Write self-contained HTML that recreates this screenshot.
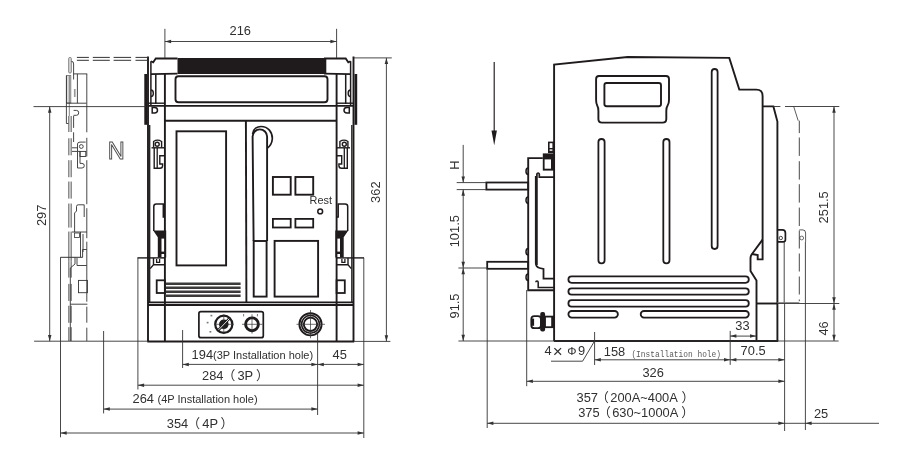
<!DOCTYPE html>
<html lang="en">
<head>
<meta charset="utf-8">
<title>Outline and installation dimensions</title>
<style>
html,body{margin:0;padding:0;background:#fff;}
body{width:920px;height:456px;overflow:hidden;}
svg{display:block;will-change:transform;}
.t{font-family:"Liberation Sans","Noto Sans CJK SC",sans-serif;}
</style>
</head>
<body>
<svg width="920" height="456" viewBox="0 0 920 456">
<rect x="0" y="0" width="920" height="456" fill="#fff"/>
<g id="front">
<line x1="148.0" y1="56.6" x2="148.0" y2="341.4" stroke="#1f1b1c" stroke-width="1.9" />
<rect x="144.3" y="74" width="2.7" height="50.8" rx="0" fill="#1f1b1c" stroke="none" stroke-width="0"/>
<line x1="150.9" y1="61.2" x2="150.9" y2="105.9" stroke="#1f1b1c" stroke-width="1.5" />
<path d="M150.9,61.2 L153.2,62.3 L155.8,58.5 L177.5,58.5" fill="none" stroke="#1f1b1c" stroke-width="1.8" />
<line x1="150.9" y1="74.1" x2="177.5" y2="73.6" stroke="#1f1b1c" stroke-width="1.8" />
<line x1="155.8" y1="74" x2="155.8" y2="104" stroke="#1f1b1c" stroke-width="1.5" />
<line x1="164.9" y1="74" x2="164.9" y2="341.4" stroke="#1f1b1c" stroke-width="1.9" />
<path d="M151.0,90 A2.3,3.2 0 0 1 151.0,96.5" fill="none" stroke="#1f1b1c" stroke-width="1.4" />
<path d="M152.2,107.6 L154.5,107.6 A3,2.7 0 0 1 154.5,113 L152.2,113 Z" fill="none" stroke="#1f1b1c" stroke-width="1.5" />
<line x1="148.0" y1="103.2" x2="165.0" y2="103.2" stroke="#1f1b1c" stroke-width="1.4" />
<circle cx="157.2" cy="144.2" r="2.0" fill="none" stroke="#1f1b1c" stroke-width="1.4"/>
<path d="M153.6,147.6 L153.6,141.5 Q157.5,138.8 161.6,141.5 L161.6,147.6" fill="none" stroke="#1f1b1c" stroke-width="1.4" />
<line x1="151.5" y1="147.8" x2="164.9" y2="147.8" stroke="#1f1b1c" stroke-width="1.4" />
<path d="M154.2,148 L154.2,168.3 L160.0,168.3 Q162.6,168.3 162.6,165.5 L162.6,164 L159.8,164 L159.8,155.8 L164.5,155.8" fill="none" stroke="#1f1b1c" stroke-width="1.4" />
<line x1="157.2" y1="148" x2="157.2" y2="168.3" stroke="#1f1b1c" stroke-width="1.3" />
<path d="M153.8,231 L153.8,206.5 Q153.8,204 156.3,204 L163.3,204 L163.3,217 L164.9,217" fill="none" stroke="#1f1b1c" stroke-width="1.5" />
<path d="M153.2,230.5 L166.2,230.5 L166.2,257.6 L157.8,257.6 L157.8,237.2 Z" fill="#1f1b1c" stroke="#1f1b1c" stroke-width="0" />
<rect x="161.5" y="238.6" width="2.6" height="13.0" rx="0" fill="#fff" stroke="none" stroke-width="0"/>
<rect x="161.5" y="254" width="2.6" height="3" rx="0" fill="#fff" stroke="none" stroke-width="0"/>
<line x1="149.7" y1="125" x2="149.7" y2="302" stroke="#1f1b1c" stroke-width="1.3" />
<path d="M150.2,268.6 L153.5,264.8 L153.5,257.9 M153.5,264.8 L164.9,264.8" fill="none" stroke="#1f1b1c" stroke-width="1.4" />
<path d="M156.6,259 L156.6,262.3 L159.6,262.3 L159.6,259" fill="none" stroke="#1f1b1c" stroke-width="1.3" />
<line x1="137.5" y1="257.9" x2="165.0" y2="257.9" stroke="#1f1b1c" stroke-width="1.4" />
<rect x="156.7" y="280.3" width="8.2" height="12.7" rx="0" fill="none" stroke="#1f1b1c" stroke-width="1.8"/>
<line x1="353.5" y1="56.6" x2="353.5" y2="341.4" stroke="#1f1b1c" stroke-width="1.9" />
<rect x="354.5" y="74" width="2.7" height="50.8" rx="0" fill="#1f1b1c" stroke="none" stroke-width="0"/>
<line x1="350.6" y1="61.2" x2="350.6" y2="105.9" stroke="#1f1b1c" stroke-width="1.5" />
<path d="M350.6,61.2 L348.3,62.3 L345.7,58.5 L324.0,58.5" fill="none" stroke="#1f1b1c" stroke-width="1.8" />
<line x1="350.6" y1="74.1" x2="324.0" y2="73.6" stroke="#1f1b1c" stroke-width="1.8" />
<line x1="345.7" y1="74" x2="345.7" y2="104" stroke="#1f1b1c" stroke-width="1.5" />
<line x1="336.6" y1="74" x2="336.6" y2="341.4" stroke="#1f1b1c" stroke-width="1.9" />
<path d="M350.5,90 A2.3,3.2 0 0 0 350.5,96.5" fill="none" stroke="#1f1b1c" stroke-width="1.4" />
<path d="M349.3,107.6 L347.0,107.6 A3,2.7 0 0 0 347.0,113 L349.3,113 Z" fill="none" stroke="#1f1b1c" stroke-width="1.5" />
<line x1="353.5" y1="103.2" x2="336.5" y2="103.2" stroke="#1f1b1c" stroke-width="1.4" />
<circle cx="344.3" cy="144.2" r="2.0" fill="none" stroke="#1f1b1c" stroke-width="1.4"/>
<path d="M347.9,147.6 L347.9,141.5 Q344.0,138.8 339.9,141.5 L339.9,147.6" fill="none" stroke="#1f1b1c" stroke-width="1.4" />
<line x1="350.0" y1="147.8" x2="336.6" y2="147.8" stroke="#1f1b1c" stroke-width="1.4" />
<path d="M347.3,148 L347.3,168.3 L341.5,168.3 Q338.9,168.3 338.9,165.5 L338.9,164 L341.7,164 L341.7,155.8 L337.0,155.8" fill="none" stroke="#1f1b1c" stroke-width="1.4" />
<line x1="344.3" y1="148" x2="344.3" y2="168.3" stroke="#1f1b1c" stroke-width="1.3" />
<path d="M347.7,231 L347.7,206.5 Q347.7,204 345.2,204 L338.2,204 L338.2,217 L336.6,217" fill="none" stroke="#1f1b1c" stroke-width="1.5" />
<path d="M348.3,230.5 L335.3,230.5 L335.3,257.6 L343.7,257.6 L343.7,237.2 Z" fill="#1f1b1c" stroke="#1f1b1c" stroke-width="0" />
<rect x="337.4" y="238.6" width="2.6" height="13.0" rx="0" fill="#fff" stroke="none" stroke-width="0"/>
<rect x="337.4" y="254" width="2.6" height="3" rx="0" fill="#fff" stroke="none" stroke-width="0"/>
<line x1="351.8" y1="125" x2="351.8" y2="302" stroke="#1f1b1c" stroke-width="1.3" />
<path d="M351.3,268.6 L348.0,264.8 L348.0,257.9 M348.0,264.8 L336.6,264.8" fill="none" stroke="#1f1b1c" stroke-width="1.4" />
<path d="M344.9,259 L344.9,262.3 L341.9,262.3 L341.9,259" fill="none" stroke="#1f1b1c" stroke-width="1.3" />
<line x1="364.0" y1="257.9" x2="336.5" y2="257.9" stroke="#1f1b1c" stroke-width="1.4" />
<rect x="336.6" y="280.3" width="8.2" height="12.7" rx="0" fill="none" stroke="#1f1b1c" stroke-width="1.8"/>
</g>
<rect x="177.5" y="58" width="148.8" height="16" rx="0" fill="#1f1b1c" stroke="none" stroke-width="0"/>
<rect x="175.5" y="76.3" width="152.0" height="26.0" rx="3" fill="none" stroke="#1f1b1c" stroke-width="1.9"/>
<line x1="148" y1="105.9" x2="353.5" y2="105.9" stroke="#1f1b1c" stroke-width="1.9" />
<line x1="164.9" y1="120.8" x2="336.6" y2="120.8" stroke="#1f1b1c" stroke-width="1.9" />
<line x1="245.9" y1="120.8" x2="246.4" y2="302.4" stroke="#1f1b1c" stroke-width="1.9" />
<rect x="176.5" y="131.3" width="49.6" height="134.1" rx="0" fill="none" stroke="#1f1b1c" stroke-width="1.9"/>
<path d="M253.6,241 L252.6,136.6 A7.25,7.25 0 0 1 267.1,136.6 L267.1,241" fill="none" stroke="#1f1b1c" stroke-width="1.9" />
<path d="M252.6,134 C253,128.5 257.5,126.5 261,126.5 C268,126.5 272.6,132 272.3,139 C272,143 270,146.2 267.1,148.4" fill="none" stroke="#1f1b1c" stroke-width="1.7" />
<rect x="253.7" y="241" width="12.9" height="55.6" rx="0" fill="none" stroke="#1f1b1c" stroke-width="1.9"/>
<rect x="272.9" y="177" width="17.8" height="17.7" rx="0" fill="none" stroke="#1f1b1c" stroke-width="1.9"/>
<rect x="295.4" y="177" width="17.8" height="17.7" rx="0" fill="none" stroke="#1f1b1c" stroke-width="1.9"/>
<rect x="272.9" y="218.9" width="17.8" height="8.6" rx="0" fill="none" stroke="#1f1b1c" stroke-width="1.8"/>
<rect x="295.4" y="218.9" width="17.8" height="8.6" rx="0" fill="none" stroke="#1f1b1c" stroke-width="1.8"/>
<rect x="274.6" y="240.9" width="43.5" height="55.7" rx="0" fill="none" stroke="#1f1b1c" stroke-width="1.9"/>
<text class="t" x="309.6" y="203.6" font-size="10.9" text-anchor="start" fill="#303030" >Rest</text>
<circle cx="320.2" cy="211.4" r="2.4" fill="none" stroke="#1f1b1c" stroke-width="1.5"/>
<line x1="166" y1="283.8" x2="240.6" y2="283.8" stroke="#3d3a3a" stroke-width="2.5" />
<line x1="166" y1="287.8" x2="240.6" y2="287.8" stroke="#3d3a3a" stroke-width="2.5" />
<line x1="166" y1="291.7" x2="240.6" y2="291.7" stroke="#3d3a3a" stroke-width="2.5" />
<line x1="166" y1="295.7" x2="240.6" y2="295.7" stroke="#3d3a3a" stroke-width="2.5" />
<line x1="148" y1="302.4" x2="353.5" y2="302.4" stroke="#1f1b1c" stroke-width="1.9" />
<line x1="148" y1="305.1" x2="353.5" y2="305.1" stroke="#1f1b1c" stroke-width="2.0" />
<line x1="147.3" y1="341.4" x2="354.2" y2="341.4" stroke="#1f1b1c" stroke-width="2.0" />
<rect x="198.9" y="311.6" width="64.4" height="26.1" rx="2" fill="none" stroke="#1f1b1c" stroke-width="1.7"/>
<circle cx="223.8" cy="324.3" r="8.6" fill="none" stroke="#1f1b1c" stroke-width="2.2"/>
<circle cx="223.8" cy="324.3" r="4.8" fill="#1f1b1c" stroke="none" stroke-width="0"/>
<line x1="214" y1="324.3" x2="233.6" y2="324.3" stroke="#333" stroke-width="0.7" />
<line x1="223.8" y1="314.5" x2="223.8" y2="334.1" stroke="#333" stroke-width="0.7" />
<line x1="217.6" y1="330.8" x2="230.2" y2="317.6" stroke="#1f1b1c" stroke-width="2.6" />
<line x1="218.6" y1="329.8" x2="229.2" y2="318.8" stroke="#fff" stroke-width="0.9" />
<circle cx="252" cy="324.3" r="6.4" fill="none" stroke="#1f1b1c" stroke-width="2.9"/>
<line x1="242" y1="324.3" x2="262.4" y2="324.3" stroke="#333" stroke-width="0.7" />
<line x1="252" y1="314.3" x2="252" y2="333.6" stroke="#333" stroke-width="0.7" />
<rect x="210.5" y="314.8" width="1.8" height="1.6" rx="0" fill="#777" stroke="none" stroke-width="0"/>
<rect x="206.7" y="321.8" width="1.8" height="1.6" rx="0" fill="#777" stroke="none" stroke-width="0"/>
<rect x="209.5" y="331.0" width="1.8" height="1.6" rx="0" fill="#777" stroke="none" stroke-width="0"/>
<line x1="243.6" y1="314.0" x2="243.6" y2="316.4" stroke="#555" stroke-width="0.8" />
<line x1="257.4" y1="314.0" x2="257.4" y2="316.4" stroke="#555" stroke-width="0.8" />
<circle cx="310.5" cy="324.3" r="11.1" fill="none" stroke="#1f1b1c" stroke-width="1.9"/>
<circle cx="310.5" cy="324.3" r="8.9" fill="none" stroke="#1f1b1c" stroke-width="1.6"/>
<circle cx="310.5" cy="324.3" r="6.7" fill="none" stroke="#1f1b1c" stroke-width="1.9"/>
<line x1="296.5" y1="324.3" x2="325" y2="324.3" stroke="#333" stroke-width="0.7" />
<line x1="310.5" y1="310" x2="310.5" y2="338.2" stroke="#333" stroke-width="0.7" />
<g id="npole">
<line x1="76.9" y1="57.4" x2="147.6" y2="57.4" stroke="#333" stroke-width="1.0" stroke-dasharray="12 3.9 17 3.8 17.5 4.4 12.1 0"/>
<line x1="76.9" y1="60.3" x2="147.6" y2="60.3" stroke="#333" stroke-width="1.0" stroke-dasharray="12 3.9 17 3.8 17.5 4.4 12.1 0"/>
<rect x="68.7" y="57.5" width="2.6" height="15.5" rx="1" fill="#ddd" stroke="#666" stroke-width="0.8"/>
<path d="M71.5,61.5 Q73.6,61 73.6,64 L73.6,79.5" fill="none" stroke="#333" stroke-width="0.9" />
<line x1="73.6" y1="73.9" x2="87.2" y2="73.9" stroke="#333" stroke-width="0.9" />
<line x1="77.4" y1="73.9" x2="77.4" y2="103.2" stroke="#333" stroke-width="0.9" />
<rect x="66.5" y="75.6" width="4.3" height="27.4" rx="0" fill="#ddd" stroke="#666" stroke-width="0.8"/>
<line x1="69.3" y1="76" x2="69.3" y2="122" stroke="#666" stroke-width="0.8" />
<line x1="66.4" y1="75.6" x2="66.4" y2="123.5" stroke="#333" stroke-width="0.9" />
<line x1="66.4" y1="123.5" x2="69.2" y2="123.5" stroke="#333" stroke-width="0.9" />
<line x1="66.4" y1="103.2" x2="86.5" y2="103.2" stroke="#333" stroke-width="0.9" />
<rect x="73.9" y="89" width="1.7" height="8" rx="0" fill="#999" stroke="none" stroke-width="0"/>
<path d="M73.6,110.4 L76.5,110.4 A2.2,2.45 0 0 1 76.5,115.3 L73.6,115.3" fill="none" stroke="#333" stroke-width="0.9" />
<line x1="73.6" y1="115.8" x2="73.6" y2="127.9" stroke="#333" stroke-width="0.9" />
<line x1="73.6" y1="132.3" x2="73.6" y2="142" stroke="#333" stroke-width="0.9" />
<line x1="86.8" y1="73.9" x2="86.8" y2="341" stroke="#333" stroke-width="0.9" stroke-dasharray="58.4 5.5 18.6 3.8 44 4 30 3.5 60 5 16 5 100"/>
<line x1="70" y1="116" x2="70" y2="341" stroke="#d4d4d4" stroke-width="2.6" stroke-dasharray="16 6.3 17 4.9 17 4.4 17 5 24 4 30 0"/>
<line x1="68.7" y1="116" x2="68.7" y2="341" stroke="#666" stroke-width="0.9" stroke-dasharray="16 6.3 17 4.9 17 4.4 17 5 24 4 30 0"/>
<line x1="71.3" y1="116" x2="71.3" y2="341" stroke="#666" stroke-width="0.9" stroke-dasharray="16 6.3 17 4.9 17 4.4 17 5 24 4 30 0"/>
<circle cx="81.3" cy="146.5" r="1.9" fill="none" stroke="#333" stroke-width="0.9"/>
<path d="M77.5,151.3 L77.5,144 Q77.5,142.1 80,142.1 L85.6,142.1" fill="none" stroke="#333" stroke-width="0.9" />
<line x1="72" y1="147.8" x2="77.5" y2="147.8" stroke="#333" stroke-width="0.9" />
<line x1="72" y1="151.4" x2="77.5" y2="151.4" stroke="#333" stroke-width="0.9" />
<path d="M77.5,151.4 L77.5,168 L82,168 A2.3,2.3 0 0 0 82,163.4 L80,163.4 L80,151.4 Z" fill="none" stroke="#333" stroke-width="0.9" />
<rect x="80" y="151.4" width="5.8" height="5.1" rx="0" fill="none" stroke="#333" stroke-width="0.9"/>
<path d="M74.6,232 L74.6,213 L76.5,211 L76.5,206.5 Q76.5,204.8 78.2,204.8 L84.2,204.8 L84.2,217" fill="none" stroke="#333" stroke-width="0.9" />
<line x1="72" y1="232" x2="86.8" y2="232" stroke="#333" stroke-width="0.9" />
<rect x="74.5" y="233" width="5.0" height="4.5" rx="0" fill="none" stroke="#333" stroke-width="0.8"/>
<line x1="80.5" y1="232" x2="80.5" y2="257" stroke="#333" stroke-width="0.9" />
<line x1="83" y1="234" x2="83" y2="252" stroke="#333" stroke-width="0.9" />
<line x1="60.4" y1="257.3" x2="82.6" y2="257.3" stroke="#333" stroke-width="1.0" />
<path d="M82.6,257.3 L82.6,249.5 L86.8,249.5" fill="none" stroke="#333" stroke-width="0.9" />
<path d="M75,257.3 L75,264 L70.3,268 L70.3,341" fill="none" stroke="#333" stroke-width="0.9" />
<path d="M77,258 L77,265.5 L86.8,265.5" fill="none" stroke="#333" stroke-width="0.9" />
<rect x="78.5" y="280.4" width="8.9" height="12.3" rx="0" fill="none" stroke="#333" stroke-width="0.9"/>
<line x1="70.3" y1="304.2" x2="87.4" y2="304.2" stroke="#333" stroke-width="0.9" />
</g>
<text x="107.7" y="159.3" font-size="23.6" font-family="Liberation Sans,Arial,sans-serif" fill="#fff" stroke="#4d4d4d" stroke-width="0.95">N</text>
<line x1="164.9" y1="28.8" x2="164.9" y2="58" stroke="#333" stroke-width="0.9" />
<line x1="336.6" y1="28.8" x2="336.6" y2="58" stroke="#333" stroke-width="0.9" />
<line x1="164.9" y1="41.5" x2="336.6" y2="41.5" stroke="#333" stroke-width="0.9" />
<polygon points="164.9,41.5 171.1,39.75 171.1,43.25" fill="#333"/>
<polygon points="336.6,41.5 330.4,43.25 330.4,39.75" fill="#333"/>
<text class="t" x="240.3" y="35.0" font-size="12.85" text-anchor="middle" fill="#303030" >216</text>
<line x1="354" y1="57.9" x2="391.8" y2="57.9" stroke="#333" stroke-width="0.9" />
<line x1="354" y1="341.4" x2="390.4" y2="341.4" stroke="#333" stroke-width="0.9" />
<line x1="386.4" y1="57.9" x2="386.4" y2="341.4" stroke="#333" stroke-width="0.9" />
<polygon points="386.4,57.9 388.15,64.1 384.65,64.1" fill="#333"/>
<polygon points="386.4,341.4 384.65,335.2 388.15,335.2" fill="#333"/>
<text class="t" transform="translate(379.9,192.2) rotate(-90)" font-size="12.9" text-anchor="middle" fill="#303030">362</text>
<line x1="33.5" y1="106.6" x2="145.6" y2="106.6" stroke="#333" stroke-width="0.9" />
<line x1="34.1" y1="341.2" x2="148" y2="341.2" stroke="#333" stroke-width="0.9" />
<line x1="49.7" y1="106.6" x2="49.7" y2="341.2" stroke="#333" stroke-width="0.9" />
<polygon points="49.7,106.6 51.45,112.8 47.95,112.8" fill="#333"/>
<polygon points="49.7,341.2 47.95,335.0 51.45,335.0" fill="#333"/>
<text class="t" transform="translate(45.6,215.3) rotate(-90)" font-size="12.9" text-anchor="middle" fill="#303030">297</text>
<line x1="60.5" y1="257.3" x2="60.5" y2="437.3" stroke="#333" stroke-width="0.9" />
<line x1="103.6" y1="331" x2="103.6" y2="413.4" stroke="#333" stroke-width="0.9" />
<line x1="137.9" y1="257.8" x2="137.9" y2="389.5" stroke="#333" stroke-width="0.9" />
<line x1="182.6" y1="330" x2="182.6" y2="368" stroke="#333" stroke-width="0.9" />
<line x1="317.6" y1="333" x2="317.6" y2="415" stroke="#333" stroke-width="0.9" />
<line x1="363.8" y1="257.8" x2="363.8" y2="438" stroke="#333" stroke-width="0.9" />
<line x1="182.6" y1="364.4" x2="317.6" y2="364.4" stroke="#333" stroke-width="0.9" />
<polygon points="182.6,364.4 188.8,362.65 188.8,366.15" fill="#333"/>
<polygon points="317.6,364.4 311.4,366.15 311.4,362.65" fill="#333"/>
<line x1="317.6" y1="364.4" x2="363.8" y2="364.4" stroke="#333" stroke-width="0.9" />
<polygon points="317.6,364.4 323.8,362.65 323.8,366.15" fill="#333"/>
<polygon points="363.8,364.4 357.6,366.15 357.6,362.65" fill="#333"/>
<line x1="137.9" y1="385.2" x2="363.8" y2="385.2" stroke="#333" stroke-width="0.9" />
<polygon points="137.9,385.2 144.1,383.45 144.1,386.95" fill="#333"/>
<polygon points="363.8,385.2 357.6,386.95 357.6,383.45" fill="#333"/>
<line x1="103.6" y1="409.1" x2="317.6" y2="409.1" stroke="#333" stroke-width="0.9" />
<polygon points="103.6,409.1 109.8,407.35 109.8,410.85" fill="#333"/>
<polygon points="317.6,409.1 311.4,410.85 311.4,407.35" fill="#333"/>
<line x1="60.5" y1="433" x2="363.8" y2="433" stroke="#333" stroke-width="0.9" />
<polygon points="60.5,433 66.7,431.25 66.7,434.75" fill="#333"/>
<polygon points="363.8,433 357.6,434.75 357.6,431.25" fill="#333"/>
<text class="t" x="191.6" y="359.3" font-size="12.85" text-anchor="start" fill="#303030" >194<tspan font-size="11.0">(3P Installation hole)</tspan></text>
<text class="t" x="339.7" y="359.3" font-size="12.85" text-anchor="middle" fill="#303030" >45</text>
<text class="t" x="202.0" y="379.9" font-size="12.85" text-anchor="start" fill="#303030" >284<tspan dx="-1.0">（</tspan><tspan dx="2.1">3P</tspan><tspan dx="2.9">）</tspan></text>
<text class="t" x="132.5" y="403.1" font-size="12.85" text-anchor="start" fill="#303030" >264 <tspan font-size="11.0">(4P Installation hole)</tspan></text>
<text class="t" x="166.8" y="427.8" font-size="12.85" text-anchor="start" fill="#303030" >354<tspan dx="-0.9">（</tspan><tspan dx="2.1">4P</tspan><tspan dx="2.4">）</tspan></text>
<g id="side">
<path d="M554.1,341 L554.1,64.6 L627.7,57 L729.3,57.9 L739.3,89.6 L756.3,89.6 Q762.6,89.6 762.6,96 L762.6,259.4 L757.7,259.4 L757.7,255 L752,254" fill="none" stroke="#1f1b1c" stroke-width="1.9" />
<path d="M762.6,239.6 L752,254 Q750.5,256 750.5,258 L750.5,271 L756.5,280.5 L756.5,341" fill="none" stroke="#1f1b1c" stroke-width="1.9" />
<line x1="553.9" y1="341" x2="778.2" y2="341" stroke="#1f1b1c" stroke-width="2.0" />
<path d="M762.6,106.4 L773.4,106.4 L777.4,121.6 L777.4,341" fill="none" stroke="#1f1b1c" stroke-width="1.9" />
<line x1="756.4" y1="303.5" x2="777.4" y2="303.5" stroke="#1f1b1c" stroke-width="1.9" />
<path d="M599,76 L666,76 Q669,76 669,79 L669,100 Q669,103.5 667.6,105.5 Q666.3,107.5 666.3,111 L666.3,119 Q666.3,122.6 662.6,122.6 L602,122.6 Q598.4,122.6 598.4,119 L598.4,111 Q598.4,107.5 597.2,105.5 Q596.1,103.5 596.1,100 L596.1,79 Q596.1,76 599,76 Z" fill="none" stroke="#1f1b1c" stroke-width="1.9" />
<rect x="604.4" y="83" width="56.6" height="23.3" rx="2.2" fill="none" stroke="#1f1b1c" stroke-width="1.9"/>
<rect x="598.4" y="139" width="6.2" height="124.3" rx="3.1" fill="none" stroke="#1f1b1c" stroke-width="1.8"/>
<rect x="663.3" y="139" width="6.2" height="124.3" rx="3.1" fill="none" stroke="#1f1b1c" stroke-width="1.8"/>
<rect x="711.7" y="69" width="5.9" height="180" rx="2.95" fill="none" stroke="#1f1b1c" stroke-width="1.8"/>
<rect x="568.4" y="276.40000000000003" width="180.4" height="6.4" rx="3.2" fill="none" stroke="#1f1b1c" stroke-width="1.8"/>
<rect x="568.4" y="288.3" width="180.4" height="6.4" rx="3.2" fill="none" stroke="#1f1b1c" stroke-width="1.8"/>
<rect x="568.4" y="300.2" width="180.4" height="6.4" rx="3.2" fill="none" stroke="#1f1b1c" stroke-width="1.8"/>
<rect x="568.4" y="311" width="49.5" height="6.6" rx="3.3" fill="none" stroke="#1f1b1c" stroke-width="1.8"/>
<rect x="640.7" y="311" width="108.1" height="6.6" rx="3.3" fill="none" stroke="#1f1b1c" stroke-width="1.8"/>
<path d="M542.8,158.1 L528.2,158.1 L528.2,290.2 L554.1,290.2" fill="none" stroke="#1f1b1c" stroke-width="1.9" />
<rect x="542.8" y="153.4" width="11.3" height="17.2" rx="0" fill="#1f1b1c" stroke="none" stroke-width="0"/>
<rect x="544.6" y="159.4" width="6.4" height="9.3" rx="0" fill="#fff" stroke="none" stroke-width="0"/>
<rect x="548" y="141.6" width="6.1" height="11.4" rx="0" fill="#1f1b1c" stroke="none" stroke-width="0"/>
<rect x="549.6" y="143.2" width="2.8" height="4.8" rx="0" fill="#fff" stroke="none" stroke-width="0"/>
<rect x="549.6" y="149.4" width="2.8" height="1.4" rx="0" fill="#fff" stroke="none" stroke-width="0"/>
<path d="M536.9,265 L536.9,174 A1.3,1.6 0 0 1 539.3,174 L539.3,177.1 L554.1,177.1" fill="none" stroke="#1f1b1c" stroke-width="1.7" />
<path d="M535.8,176 L535.8,263 Q535.8,267 539.5,268 L543.5,269 L543.5,278.6 L554.1,278.6" fill="none" stroke="#1f1b1c" stroke-width="1.8" />
<path d="M535.8,282.3 A1.2,1.2 0 0 1 538.2,282.3 L538.2,287.4 L554.1,287.4" fill="none" stroke="#1f1b1c" stroke-width="1.5" />
<path d="M528.2,168.10000000000002 A2.2,3.2 0 0 0 528.2,174.5" fill="none" stroke="#1f1b1c" stroke-width="1.5" />
<path d="M528.2,197.0 A2.2,3.2 0 0 0 528.2,203.39999999999998" fill="none" stroke="#1f1b1c" stroke-width="1.5" />
<path d="M528.2,248.60000000000002 A2.2,3.2 0 0 0 528.2,255.0" fill="none" stroke="#1f1b1c" stroke-width="1.5" />
<path d="M528.2,274.0 A2.2,3.2 0 0 0 528.2,280.4" fill="none" stroke="#1f1b1c" stroke-width="1.5" />
<rect x="486.4" y="182.5" width="41.8" height="7.1" rx="0" fill="none" stroke="#1f1b1c" stroke-width="1.8"/>
<rect x="487.2" y="261.8" width="41.0" height="7.0" rx="0" fill="none" stroke="#1f1b1c" stroke-width="1.8"/>
<rect x="531.3" y="316.2" width="9.7" height="12.0" rx="3" fill="none" stroke="#1f1b1c" stroke-width="1.8"/>
<line x1="532.9" y1="318.6" x2="532.9" y2="325.8" stroke="#1f1b1c" stroke-width="2.4" />
<rect x="545" y="316.6" width="8.6" height="10.6" rx="0" fill="none" stroke="#1f1b1c" stroke-width="1.8"/>
<line x1="552.4" y1="316.6" x2="552.4" y2="327.2" stroke="#1f1b1c" stroke-width="2.4" />
<rect x="540.2" y="312" width="4.9" height="19.5" rx="2" fill="#1f1b1c" stroke="none" stroke-width="0"/>
<path d="M777.4,229.9 L782.4,229.9 Q785.4,229.9 785.4,233 L785.4,239.8 Q785.4,241.9 783,241.9 L777.4,241.9" fill="none" stroke="#1f1b1c" stroke-width="1.7" />
<circle cx="780.8" cy="238" r="1.7" fill="none" stroke="#1f1b1c" stroke-width="0.8"/>
<line x1="784.2" y1="241.9" x2="784.2" y2="303" stroke="#333" stroke-width="0.9" />
<line x1="793.7" y1="106.5" x2="798.2" y2="120.7" stroke="#333" stroke-width="0.8" />
<line x1="799.3" y1="120.7" x2="799.3" y2="301.2" stroke="#333" stroke-width="0.9" stroke-dasharray="12.4 4.4 18.4 5.3 18.4 4.6 18.4 5 18.4 4.5 18 5 18 5 18 5 18 5"/>
<path d="M799.3,229.9 L803,229.9 Q805.6,229.9 805.6,233 L805.6,241.9" fill="none" stroke="#333" stroke-width="0.8" />
<circle cx="801.7" cy="238" r="1.9" fill="none" stroke="#333" stroke-width="0.7"/>
<line x1="777.4" y1="302.6" x2="799.3" y2="302.6" stroke="#777" stroke-width="0.9" />
</g>
<line x1="494.2" y1="61.9" x2="494.2" y2="132" stroke="#1f1b1c" stroke-width="1.15" />
<polygon points="494.2,145.2 491.5,130.6 496.9,130.6" fill="#1f1b1c"/>
<line x1="463.2" y1="144.9" x2="463.2" y2="182.6" stroke="#333" stroke-width="0.9" />
<polygon points="463.2,182.6 461.45,176.4 464.95,176.4" fill="#333"/>
<line x1="463.2" y1="189.6" x2="463.2" y2="268" stroke="#333" stroke-width="0.9" />
<polygon points="463.2,189.6 464.95,195.8 461.45,195.8" fill="#333"/>
<polygon points="463.2,268 461.45,261.8 464.95,261.8" fill="#333"/>
<line x1="463.2" y1="268" x2="463.2" y2="341" stroke="#333" stroke-width="0.9" />
<polygon points="463.2,268 464.95,274.2 461.45,274.2" fill="#333"/>
<polygon points="463.2,341 461.45,334.8 464.95,334.8" fill="#333"/>
<line x1="456.7" y1="182.6" x2="486.4" y2="182.6" stroke="#333" stroke-width="0.9" />
<line x1="456.7" y1="189.6" x2="486.4" y2="189.6" stroke="#333" stroke-width="0.9" />
<line x1="458.4" y1="268" x2="487.2" y2="268" stroke="#333" stroke-width="0.9" />
<line x1="458.4" y1="341" x2="838.6" y2="341" stroke="#333" stroke-width="0.9" />
<text class="t" transform="translate(459,165) rotate(-90)" font-size="12.85" text-anchor="middle" fill="#303030">H</text>
<text class="t" transform="translate(459,231.2) rotate(-90)" font-size="12.85" text-anchor="middle" fill="#303030">101.5</text>
<text class="t" transform="translate(459,306) rotate(-90)" font-size="12.85" text-anchor="middle" fill="#303030">91.5</text>
<line x1="773.4" y1="106.5" x2="780.4" y2="106.5" stroke="#333" stroke-width="0.9" />
<line x1="785" y1="106.5" x2="839.3" y2="106.5" stroke="#333" stroke-width="0.9" />
<line x1="777.4" y1="303.5" x2="839.3" y2="303.5" stroke="#333" stroke-width="0.9" />
<line x1="834" y1="106.5" x2="834" y2="303.5" stroke="#333" stroke-width="0.9" />
<polygon points="834,106.5 835.75,112.7 832.25,112.7" fill="#333"/>
<polygon points="834,303.5 832.25,297.3 835.75,297.3" fill="#333"/>
<line x1="834" y1="303.5" x2="834" y2="341" stroke="#333" stroke-width="0.9" />
<polygon points="834,303.5 835.75,309.7 832.25,309.7" fill="#333"/>
<polygon points="834,341 832.25,334.8 835.75,334.8" fill="#333"/>
<text class="t" transform="translate(828.2,207.3) rotate(-90)" font-size="12.85" text-anchor="middle" fill="#303030">251.5</text>
<text class="t" transform="translate(828.2,328.4) rotate(-90)" font-size="12.85" text-anchor="middle" fill="#303030">46</text>
<line x1="730.2" y1="330.9" x2="730.2" y2="364.9" stroke="#333" stroke-width="0.9" />
<line x1="730.2" y1="336.1" x2="756.2" y2="336.1" stroke="#333" stroke-width="0.9" />
<polygon points="730.2,336.1 736.4,334.35 736.4,337.85" fill="#333"/>
<polygon points="756.2,336.1 750.0,337.85 750.0,334.35" fill="#333"/>
<text class="t" x="742.4" y="330" font-size="12.85" text-anchor="middle" fill="#303030" >33</text>
<line x1="594.6" y1="332" x2="594.6" y2="365" stroke="#333" stroke-width="0.9" />
<line x1="487.2" y1="268.8" x2="487.2" y2="428" stroke="#333" stroke-width="0.9" />
<line x1="526.7" y1="290" x2="526.7" y2="386.2" stroke="#333" stroke-width="0.9" />
<line x1="784.6" y1="303.5" x2="784.6" y2="431" stroke="#333" stroke-width="0.9" />
<line x1="805.4" y1="241.9" x2="805.4" y2="430" stroke="#333" stroke-width="0.9" />
<line x1="594.6" y1="359.8" x2="730.2" y2="359.8" stroke="#333" stroke-width="0.9" />
<polygon points="594.6,359.8 600.8,358.05 600.8,361.55" fill="#333"/>
<polygon points="730.2,359.8 724.0,361.55 724.0,358.05" fill="#333"/>
<line x1="730.2" y1="359.8" x2="784.6" y2="359.8" stroke="#333" stroke-width="0.9" />
<polygon points="730.2,359.8 736.4,358.05 736.4,361.55" fill="#333"/>
<polygon points="784.6,359.8 778.4,361.55 778.4,358.05" fill="#333"/>
<line x1="526.7" y1="381.3" x2="784.6" y2="381.3" stroke="#333" stroke-width="0.9" />
<polygon points="526.7,381.3 532.9,379.55 532.9,383.05" fill="#333"/>
<polygon points="784.6,381.3 778.4,383.05 778.4,379.55" fill="#333"/>
<line x1="487.2" y1="423.3" x2="784.6" y2="423.3" stroke="#333" stroke-width="0.9" />
<polygon points="487.2,423.3 493.4,421.55 493.4,425.05" fill="#333"/>
<polygon points="784.6,423.3 778.4,425.05 778.4,421.55" fill="#333"/>
<line x1="784.6" y1="423.3" x2="879" y2="423.3" stroke="#333" stroke-width="0.9" />
<polygon points="805.4,423.3 811.6,421.55 811.6,425.05" fill="#333"/>
<text class="t" x="821.1" y="417.7" font-size="12.85" text-anchor="middle" fill="#303030" >25</text>
<text class="t" x="753.1" y="355.4" font-size="12.85" text-anchor="middle" fill="#303030" >70.5</text>
<text class="t" x="603.8" y="356.3" font-size="12.85" text-anchor="start" fill="#303030" >158</text>
<text transform="translate(631.4,356.7) scale(0.803,1)" font-size="9.8" font-family="Liberation Mono,monospace" fill="#5a5a5a">(Installation hole)</text>
<text class="t" x="544.6" y="355.4" font-size="12.85" text-anchor="start" fill="#303030" >4<tspan dx="0.9" dy="1.2" font-size="17">×</tspan><tspan dx="4.6" dy="-1.2" font-size="11.6">Φ</tspan><tspan dx="1.6">9</tspan></text>
<path d="M551,361.2 L582.6,361.2 L594.6,341" fill="none" stroke="#333" stroke-width="0.9" />
<text class="t" x="653.2" y="377" font-size="12.85" text-anchor="middle" fill="#303030" >326</text>
<text class="t" x="576.5" y="402" font-size="12.85" text-anchor="start" fill="#303030" >357<tspan dx="-2.0">（</tspan><tspan dx="1.5">200A~400A</tspan><tspan dx="3.6">）</tspan></text>
<text class="t" x="578.2" y="417" font-size="12.85" text-anchor="start" fill="#303030" >375<tspan dx="-1.6">（</tspan><tspan dx="1.3">630~1000A</tspan><tspan dx="3.0">）</tspan></text>
</svg>
</body>
</html>
